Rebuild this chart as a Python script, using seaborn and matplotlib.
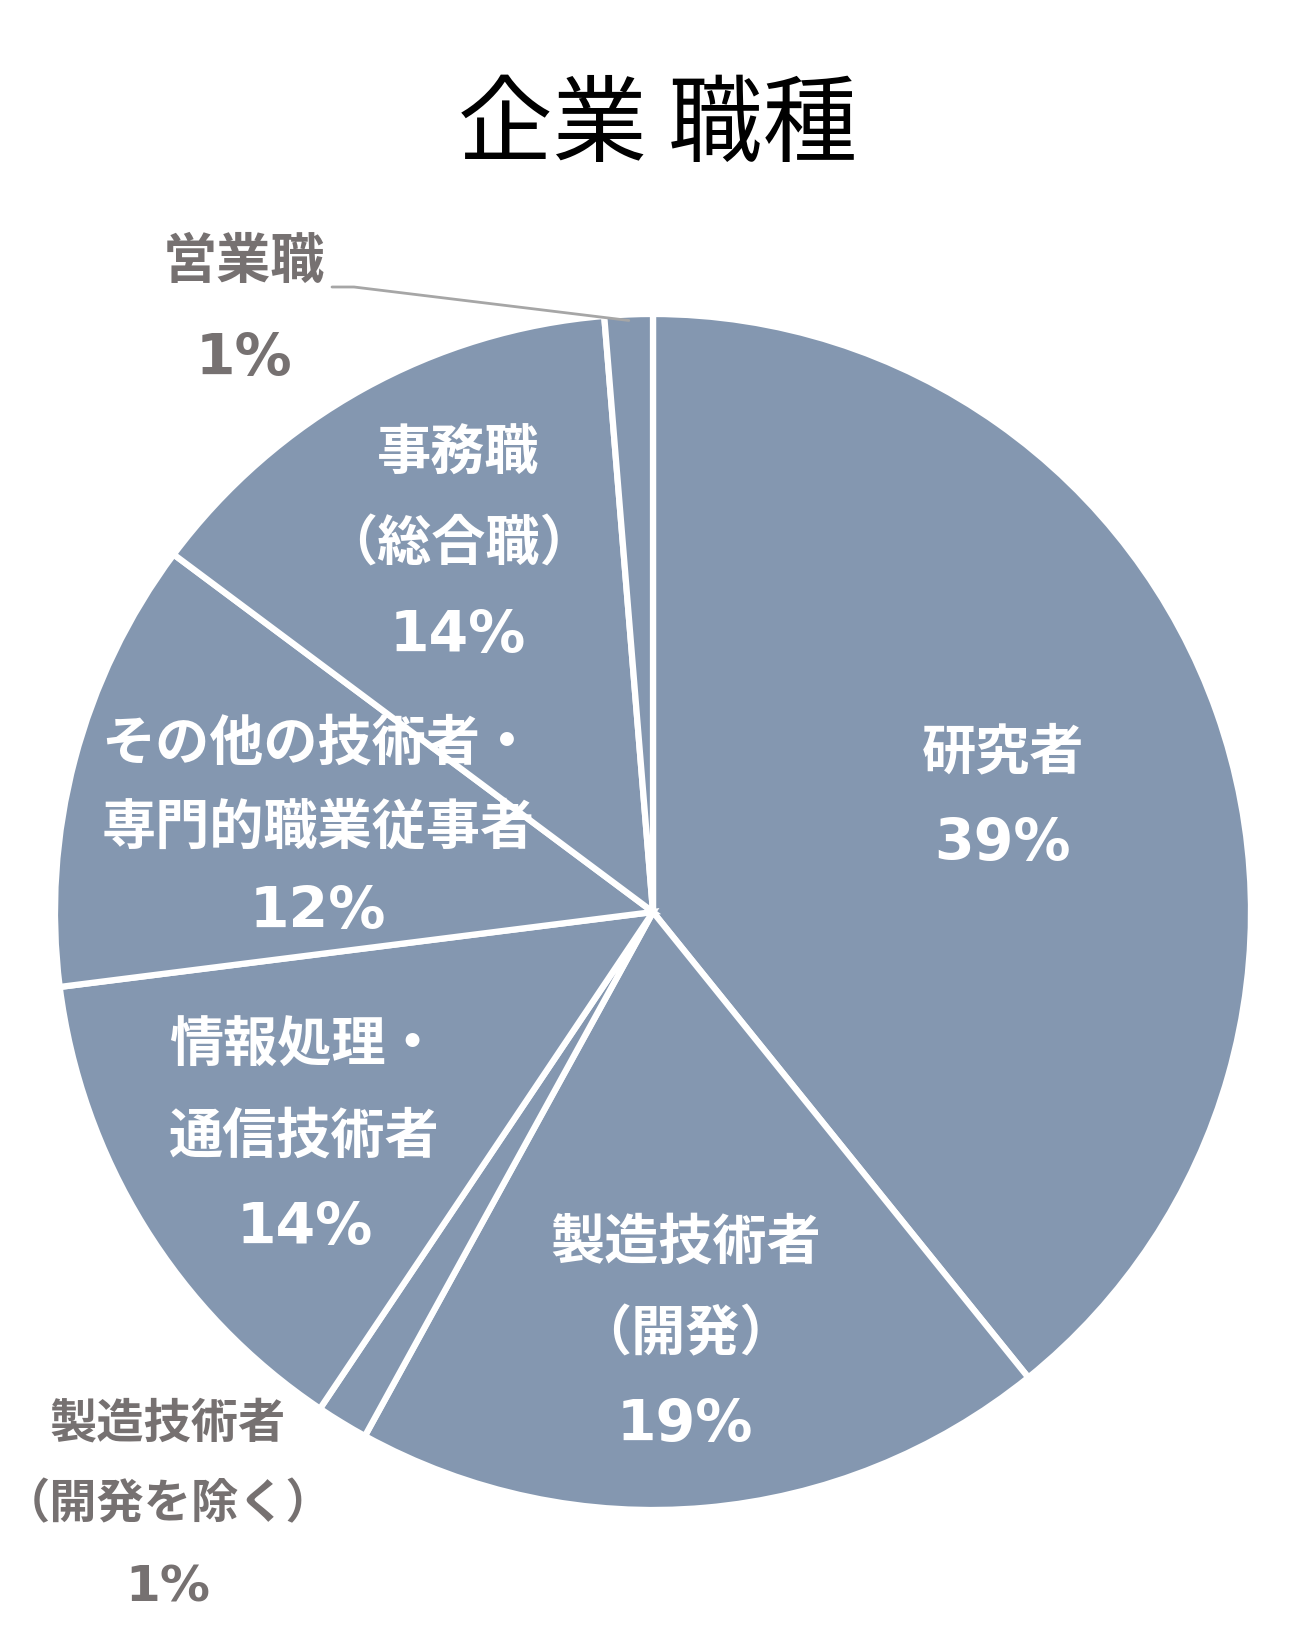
import matplotlib
matplotlib.use("Agg")
import matplotlib.pyplot as plt
import seaborn as sns
import numpy as np

# datos del grafico
title = "企業 職種"
categories = ["研究者", "製造技術者\n（開発）", "製造技術者\n（開発を除く）", "情報処理・\n通信技術者",
              "その他の技術者・\n専門的職業従事者", "事務職\n（総合職）", "営業職"]
shares = [39.2, 18.8, 1.4, 13.6, 12.2, 13.5, 1.3]

W, H = 1310, 1636
cx, cy, R = 653, H - 912, 598
slice_color = "#8497B0"
out_color = "#767171"

sns.set_theme(style="white")
plt.rcParams['font.family'] = ['DejaVu Sans', 'Noto Sans CJK JP']

fig = plt.figure(figsize=(W / 100, H / 100), dpi=100)
ax = fig.add_axes([0, 0, 1, 1])
wedges, _ = ax.pie(shares, colors=[slice_color] * len(shares), startangle=90,
                   counterclock=False, center=(cx, cy), radius=R,
                   wedgeprops=dict(edgecolor="white", linewidth=4.5))
ax.set_xlim(0, W)
ax.set_ylim(0, H)
ax.set_aspect("equal")
ax.axis("off")


def draw_block(x, y, lines, spacing, size, color):
    n = len(lines)
    for i, line in enumerate(lines):
        yy = y + (n - 1) / 2 * spacing - i * spacing
        fs = size + 2 if line.endswith("%") else size
        ax.text(x, yy, line, ha="center", va="center", fontsize=fs,
                fontweight="bold", color=color)


# etiquetas dentro de los sectores: (radio, interlineado, ajuste x, ajuste y)
inside = {0: (0.62, 91, 0, -10), 1: (0.71, 91, -5, 0), 3: (0.70, 91, 8, -6),
          4: (0.58, 84, 0, -5), 5: (0.70, 91, 8, 0)}
for i, (rf, sp, dx, dy) in inside.items():
    w = wedges[i]
    ang = np.deg2rad((w.theta1 + w.theta2) / 2)
    x = cx + rf * R * np.cos(ang) + dx
    y = cy + rf * R * np.sin(ang) + dy
    lines = categories[i].split("\n") + [f"{shares[i]:.0f}%"]
    draw_block(x, y, lines, sp, 39, "white")

# etiquetas fuera
draw_block(244, H - 311, categories[6].split("\n") + [f"{shares[6]:.0f}%"], 97, 39, out_color)
draw_block(168, H - 1506, categories[2].split("\n") + [f"{shares[2]:.0f}%"], 81, 34, out_color)

# linea guia del sector pequeno
w = wedges[6]
ang = np.deg2rad((w.theta1 + w.theta2) / 2)
tip = (cx + 0.99 * R * np.cos(ang), cy + 0.99 * R * np.sin(ang))
ax.plot([332, 354, tip[0]], [H - 287, H - 287, tip[1]], color="#A6A6A6", lw=2)

ax.text(658, H - 127, title, ha="center", va="center", fontsize=68, color="black",
        family=['Noto Sans CJK JP'])

fig.savefig("out.png", dpi=100)
